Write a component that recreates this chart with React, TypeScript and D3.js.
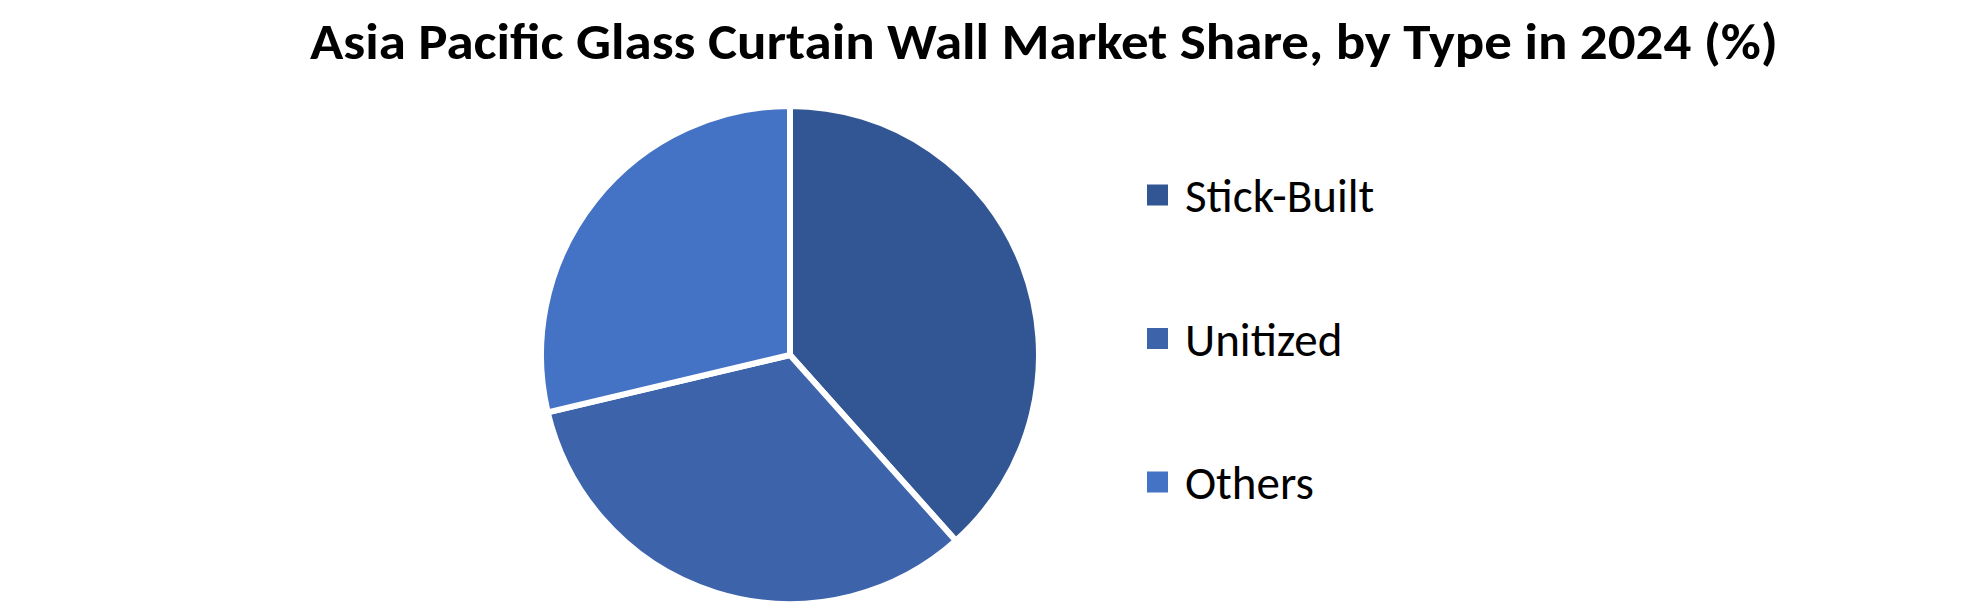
import React, { useEffect, useRef } from 'react';
import * as d3 from 'd3';

// chart data
const categories = ['Stick-Built', 'Unitized', 'Others'];
const shares = [38.4, 32.9, 28.7];
const colors = ['#325593', '#3D64AB', '#4472C4'];

const title = 'Asia Pacific Glass Curtain Wall Market Share, by Type in 2024 (%)';

const width = 1980;
const height = 608;

const App: React.FC = () => {
  const svgRef = useRef<SVGSVGElement>(null);

  useEffect(() => {
    if (!svgRef.current) return;
    const svg = d3.select(svgRef.current);
    svg.selectAll('*').remove();

    const cx = 790;
    const cy = 355;
    const radius = 249;

    // titre
    svg.append('text')
      .attr('x', 1044)
      .attr('y', 59)
      .attr('text-anchor', 'middle')
      .attr('fill', '#000')
      .attr('font-family', 'Calibri, Carlito, Lato, sans-serif')
      .attr('font-weight', 700)
      .attr('font-size', 50)
      .attr('textLength', 1468)
      .attr('lengthAdjust', 'spacingAndGlyphs')
      .text(title);

    const data = categories.map((c, i) => ({ name: c, value: shares[i] }));
    const pie = d3.pie<{ name: string; value: number }>()
      .value(d => d.value)
      .sort(null);
    const arc = d3.arc<d3.PieArcDatum<{ name: string; value: number }>>()
      .innerRadius(0)
      .outerRadius(radius);

    const g = svg.append('g').attr('transform', `translate(${cx},${cy})`);
    g.selectAll('path')
      .data(pie(data))
      .enter()
      .append('path')
      .attr('d', arc)
      .attr('fill', (d, i) => colors[i])
      .attr('stroke', '#fff')
      .attr('stroke-width', 6)
      .attr('stroke-linejoin', 'round');

    // legende
    const legendY = d3.scalePoint<string>()
      .domain(categories)
      .range([195, 482]);

    const legend = svg.append('g');
    categories.forEach((c, i) => {
      const y = legendY(c)!;
      legend.append('rect')
        .attr('x', 1147)
        .attr('y', y - 10.5)
        .attr('width', 21)
        .attr('height', 21)
        .attr('fill', colors[i]);
      legend.append('text')
        .attr('x', 1185)
        .attr('y', y + 17)
        .attr('fill', '#000')
        .attr('font-family', 'Calibri, Carlito, Lato, sans-serif')
        .attr('font-size', 47)
        .text(c);
    });
  }, []);

  return (
    <svg
      ref={svgRef}
      width={width}
      height={height}
      viewBox={`0 0 ${width} ${height}`}
      style={{ display: 'block', position: 'absolute', left: 0, top: 0, background: '#fff' }}
    />
  );
};

export default App;
